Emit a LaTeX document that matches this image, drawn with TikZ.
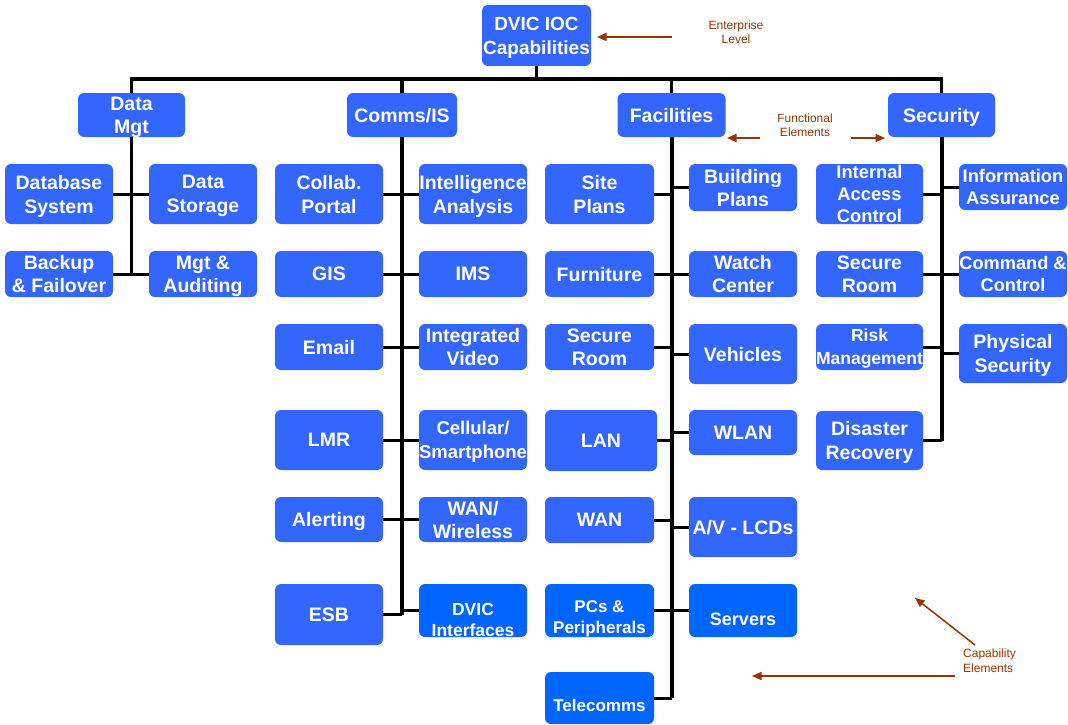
\documentclass[tikz,border=0pt]{standalone}
\usepackage{fontspec}
\setmainfont{Liberation Sans}
\usetikzlibrary{arrows.meta,calc}
\definecolor{boxblue}{RGB}{51,102,255}
\definecolor{brightblue}{RGB}{0,102,255}
\definecolor{annbrown}{RGB}{153,51,0}
\begin{document}
\begin{tikzpicture}[x=1pt,y=-1pt,
  box/.style={rectangle, rounded corners=6pt, fill=boxblue, text=white, align=center,
    inner sep=0pt, text depth=-3pt, font=\bfseries\fontsize{19.5}{24}\selectfont},
  bright/.style={fill=brightblue},
  sz/.style 2 args={minimum width=#1pt, minimum height=#2pt},
  fs/.style 2 args={font=\bfseries\fontsize{#1}{#2}\selectfont},
  lbl/.style={text=white, align=center, inner sep=0pt, text depth=0pt},
  spine/.style={line width=3.5pt, black, line join=miter},
  branch/.style={line width=3pt, black},
  ann/.style={text=annbrown, align=center, inner sep=0pt, font=\fontsize{12}{14.5}\selectfont},
  annarrow/.style={draw=annbrown, line width=1.5pt, -{Triangle[length=9.5pt,width=8pt]}}]
\useasboundingbox (0,0) rectangle (1068,725);

% enterprise level
\node[box, sz={109}{61}, fs={19}{24}] (top) at (536.5,35.5) {DVIC IOC\\Capabilities};

% functional elements
\node[box, sz={107}{44}, fs={19.5}{23}] (dm)  at (131.5,115) {Data\\Mgt};
\node[box, sz={110}{44}] (cis) at (402,115) {Comms/IS};
\node[box, sz={108}{44}] (fac) at (671.5,115) {Facilities};
\node[box, sz={107}{44}] (sec) at (941.5,115) {Security};

% Data Mgt capabilities
\node[box, sz={108}{60}] (db)  at (59,194)  {Database\\System};
\node[box, sz={108}{60}] (dst) at (203,194) {Data\\Storage};
\node[box, sz={108}{46}, fs={19.5}{23}] (bk)  at (59,274)  {Backup\\\& Failover};
\node[box, sz={108}{46}, fs={19.5}{23}] (ma)  at (203,274) {Mgt \&\\Auditing};

% Comms/IS capabilities
\node[box, sz={108}{60}] (cp)  at (329,194) {Collab.\\Portal};
\node[box, sz={108}{60}] (ia)  at (473,194) {Intelligence\\Analysis};
\node[box, sz={108}{46}] (gis) at (329,274) {GIS};
\node[box, sz={108}{46}] (ims) at (473,274) {IMS};
\node[box, sz={108}{46}, fs={19.5}{23}] (em)  at (329,347) {Email};
\node[box, sz={108}{46}, fs={19.5}{23}] (iv)  at (473,347) {Integrated\\Video};
\node[box, sz={108}{60}] (lmr) at (329,440) {LMR};
\node[box, sz={108}{60}, fs={18.5}{24}] (cs)  at (473,440) {Cellular/\\Smartphone};
\node[box, sz={108}{45}] (al)  at (329,519.5) {Alerting};
\node[box, sz={108}{45}, fs={19.5}{23}] (ww)  at (473,519.5) {WAN/\\Wireless};
\node[box, sz={108}{61}] (esb) at (329,614.5) {ESB};
\node[box, bright, sz={108}{53},
  label={[lbl, fs={17.5}{21}, yshift=-9pt]center:{DVIC\\Interfaces}}] (di) at (473,610.5) {};

% Facilities capabilities
\node[box, sz={109}{60}] (sp)  at (599.5,194) {Site\\Plans};
\node[box, sz={108}{47}, fs={19.5}{23}] (bp)  at (743,187.5) {Building\\Plans};
\node[box, sz={109}{46}] (fu)  at (599.5,274) {Furniture};
\node[box, sz={108}{46}, fs={19.5}{23}] (wc)  at (743,274) {Watch\\Center};
\node[box, sz={109}{46}, fs={19.5}{23}] (sr)  at (599.5,347) {Secure\\Room};
\node[box, sz={108}{60}] (ve)  at (743,354) {Vehicles};
\node[box, sz={112}{61}] (lan) at (601,440.5) {LAN};
\node[box, sz={108}{45}] (wl)  at (743,432.5) {WLAN};
\node[box, sz={109}{46}] (wan) at (599.5,520) {WAN};
\node[box, sz={108}{60}] (av)  at (743,527) {A/V - LCDs};
\node[box, bright, sz={109}{53},
  label={[lbl, fs={17}{21}, yshift=-7pt]center:{PCs \&\\Peripherals}}] (pc) at (599.5,610.5) {};
\node[box, bright, sz={108}{53},
  label={[lbl, fs={18}{22}, yshift=-9pt]center:Servers}] (sv) at (743,610.5) {};
\node[box, bright, sz={109}{52},
  label={[lbl, fs={17}{21}, yshift=-7pt]center:Telecomms}] (tc) at (599.5,698) {};

% Security capabilities
\node[box, sz={107}{60}, fs={18.3}{22}] (iac) at (869.5,194) {Internal\\Access\\Control};
\node[box, sz={108}{46}, fs={18.3}{22}] (ias) at (1013,187) {Information\\Assurance};
\node[box, sz={107}{46}, fs={19.5}{23}] (sr2) at (869.5,274) {Secure\\Room};
\node[box, sz={108}{46}, fs={18.2}{22}] (cc)  at (1013,274) {Command \&\\Control};
\node[box, sz={107}{46}, fs={17.5}{23}] (rm)  at (869.5,347) {Risk\\Management};
\node[box, sz={108}{59}] (ps)  at (1013,353.5) {Physical\\Security};
\node[box, sz={107}{59}] (dr)  at (869.5,440.5) {Disaster\\Recovery};

% bus
\coordinate (bus) at (536.5,79);
\draw[spine] (top.south) -- (top.south |- bus);
\draw[spine] (dm.north) -- (dm.north |- bus) -- (sec.north |- bus) -- (sec.north);
\draw[spine] (cis.north) -- (cis.north |- bus);
\draw[spine] (fac.north) -- (fac.north |- bus);

% Data Mgt tree
\draw[spine] (dm.south) -- (dm.south |- bk.east);
\draw[branch] (db.east) -- (dst.west);
\draw[branch] (bk.east) -- (ma.west);

% Comms/IS tree
\draw[spine] (cis.south) -- (cis.south |- esb.east);
\draw[branch] (cp.east) -- (ia.west);
\draw[branch] (gis.east) -- (ims.west);
\draw[branch] (em.east) -- (iv.west);
\draw[branch] (lmr.east) -- (cs.west);
\draw[branch] (al.east) -- (ww.west);
\draw[branch] (esb.east) -- (cis.south |- esb.east);
\draw[branch] (di.west) -- (cis.south |- di.west);

% Facilities tree
\coordinate (fx) at (672,137);
\draw[spine] (fx) -- (fx |- tc.east);
\draw[branch] (sp.east) -- (fx |- sp.east);
\draw[branch] (bp.west) -- (fx |- bp.west);
\draw[branch] (fu.east) -- (wc.west);
\draw[branch] (sr.east) -- (fx |- sr.east);
\draw[branch] (ve.west) -- (fx |- ve.west);
\draw[branch] (lan.east) -- (fx |- lan.east);
\draw[branch] (wl.west) -- (fx |- wl.west);
\draw[branch] (wan.east) -- (fx |- wan.east);
\draw[branch] (av.west) -- (fx |- av.west);
\draw[branch] (pc.east) -- (sv.west);
\draw[branch] (tc.east) -- (fx |- tc.east);

% Security tree
\coordinate (sx) at (942,137);
\draw[spine] (sx) -- (sx |- dr.east);
\draw[branch] (iac.east) -- (sx |- iac.east);
\draw[branch] (ias.west) -- (sx |- ias.west);
\draw[branch] (sr2.east) -- (cc.west);
\draw[branch] (rm.east) -- (sx |- rm.east);
\draw[branch] (ps.west) -- (sx |- ps.west);
\draw[branch] (dr.east) -- (sx |- dr.east);

% annotations
\node[ann] (ent) at (736,32) {Enterprise\\Level};
\coordinate (entS) at (672,37);
\coordinate (entT) at (597,37);
\draw[annarrow] (entS) -- (entT);

\node[ann] (fe) at (805,125) {Functional\\Elements};
\coordinate (feS1) at (760,138);
\coordinate (feT1) at (727,138);
\coordinate (feS2) at (851,138);
\coordinate (feT2) at (885,138);
\draw[annarrow] (feS1) -- (feT1);
\draw[annarrow] (feS2) -- (feT2);

\node[ann, align=left, anchor=west] (ce) at (963,660.5) {Capability\\Elements};
\coordinate (ceS1) at (975,645);
\coordinate (ceT1) at (915,598);
\coordinate (ceS2) at (955,676);
\coordinate (ceT2) at (752,676);
\draw[annarrow] (ceS1) -- (ceT1);
\draw[annarrow] (ceS2) -- (ceT2);
\end{tikzpicture}
\end{document}
